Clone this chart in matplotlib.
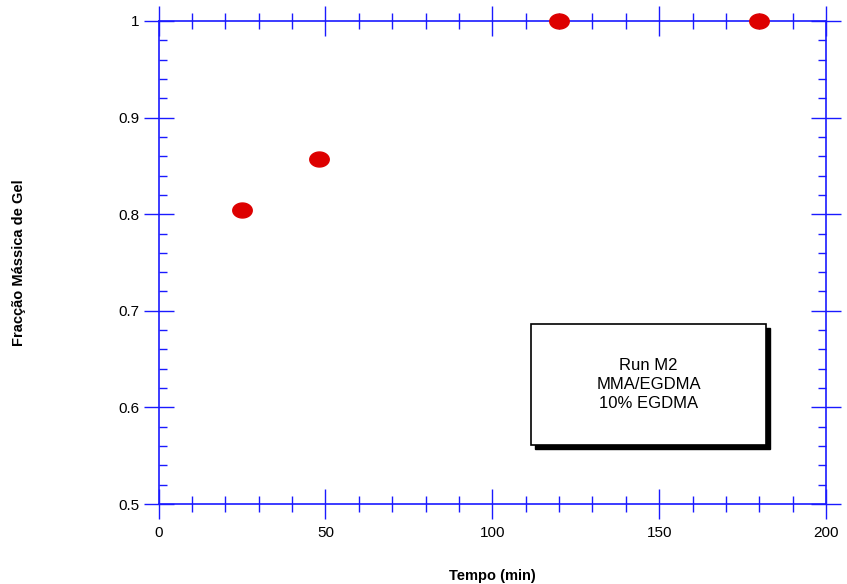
import numpy as np
import matplotlib.pyplot as plt
from matplotlib.path import Path
from matplotlib.ticker import MultipleLocator

plt.rcParams['font.family'] = ['Liberation Sans', 'DejaVu Sans']

tempo = [25, 48, 120, 180]
fracao_gel = [0.804, 0.857, 1.0, 1.0]

x_ticks = [0, 50, 100, 150, 200]
y_ticks = [0.5, 0.6, 0.7, 0.8, 0.9, 1.0]
y_tick_labels = ['0.5', '0.6', '0.7', '0.8', '0.9', '1']

blue = '#1a1aff'

# flattened ellipse marker
t = np.linspace(0, 2 * np.pi, 60)
ellipse = Path(np.column_stack([1.3 * np.cos(t), np.sin(t)]), closed=True)

fig = plt.figure(figsize=(8.47, 5.84), dpi=100)
ax = fig.add_axes([158.5 / 847, 1 - 504 / 584, 667.5 / 847, 483 / 584])

ax.plot(tempo, fracao_gel, linestyle='none', marker=ellipse, markersize=14,
        color='#dd0000', clip_on=False, zorder=5)

ax.set_xlim(0, 200)
ax.set_ylim(0.5, 1.0)
ax.set_xticks(x_ticks)
ax.set_yticks(y_ticks)
ax.set_yticklabels(y_tick_labels)
ax.xaxis.set_minor_locator(MultipleLocator(10))
ax.yaxis.set_minor_locator(MultipleLocator(0.02))

for s in ax.spines.values():
    s.set_color(blue)
    s.set_linewidth(1.2)

ax.tick_params(which='major', direction='inout', length=22, width=1.0,
               color=blue, top=True, right=True, labelsize=11, pad=3)
ax.tick_params(axis='x', which='minor', direction='inout', length=11, width=1.0,
               color=blue, top=True)
ax.tick_params(axis='y', which='minor', direction='in', length=6, width=1.0,
               color=blue, right=True)
ax.tick_params(axis='x', which='major', pad=5)

ax.set_xlabel('Tempo (min)', fontsize=10.5, fontweight='bold', va='center')
ax.xaxis.set_label_coords(0.5, -0.149)
ax.set_ylabel('Fracção Mássica de Gel', fontsize=10.5, fontweight='bold', va='center')
ax.yaxis.set_label_coords(-0.209, 0.5)

# annotation box with drop shadow
bx0, bx1, by0, by1 = 0.558, 0.910, 0.122, 0.373
dx, dy = 0.006, 0.0083
ax.add_patch(plt.Rectangle((bx0 + dx, by0 - dy), bx1 - bx0, by1 - by0,
                           transform=ax.transAxes, facecolor='black',
                           edgecolor='black', zorder=3))
ax.add_patch(plt.Rectangle((bx0, by0), bx1 - bx0, by1 - by0,
                           transform=ax.transAxes, facecolor='white',
                           edgecolor='black', linewidth=1.2, zorder=4))
ax.text((bx0 + bx1) / 2, (by0 + by1) / 2, 'Run M2\nMMA/EGDMA\n10% EGDMA',
        transform=ax.transAxes, ha='center', va='center', fontsize=12,
        linespacing=1.3, zorder=5)

fig.savefig('out.png', dpi=100)
